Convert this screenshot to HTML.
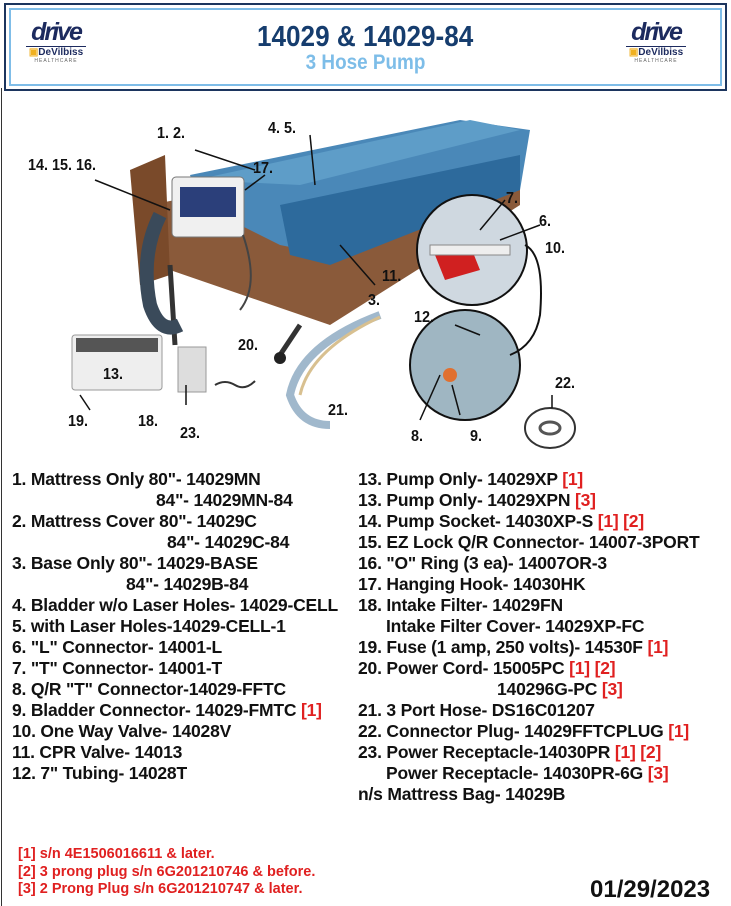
<!DOCTYPE html>
<html><head><meta charset="utf-8"><style>
body{margin:0;width:731px;height:906px;background:#fff;position:relative;overflow:hidden;font-family:"Liberation Sans",sans-serif}
.hdr{position:absolute;left:4px;top:3px;width:719px;height:84px;border:2px solid #1c355e}
.hdr2{position:absolute;left:3px;top:3px;right:3px;bottom:3px;border:2px solid #7fbde8}
.t{position:absolute;white-space:nowrap;font-weight:bold;font-size:17.5px;color:#111;line-height:21px;letter-spacing:-0.2px}
.t div{height:21px}
.r{color:#e02020}
.logo{position:absolute;top:20px;width:60px;text-align:center}
.lbl{position:absolute;font-weight:bold;font-size:16px;color:#111;transform:scaleX(0.9);transform-origin:0 0}
</style></head><body>
<div style="position:absolute;left:1px;top:88px;width:1px;height:818px;background:#333"></div>
<div class="hdr"><div class="hdr2"></div></div>
<div class="logo" style="left:26px"><div style="font:italic bold 25px 'Liberation Sans',sans-serif;color:#1c2a5e;letter-spacing:-2px;line-height:24px">drive</div><div style="border-top:1px solid #1c2a5e;font-size:10px;font-weight:bold;color:#1c2a5e;margin-top:2px"><span style="color:#f0b020">▣</span>DeVilbiss</div><div style="font-size:5px;color:#666;letter-spacing:1px">HEALTHCARE</div></div>
<div class="logo" style="left:626px"><div style="font:italic bold 25px 'Liberation Sans',sans-serif;color:#1c2a5e;letter-spacing:-2px;line-height:24px">drive</div><div style="border-top:1px solid #1c2a5e;font-size:10px;font-weight:bold;color:#1c2a5e;margin-top:2px"><span style="color:#f0b020">▣</span>DeVilbiss</div><div style="font-size:5px;color:#666;letter-spacing:1px">HEALTHCARE</div></div>
<div style="position:absolute;left:0;width:731px;top:22px;text-align:center;font-weight:bold;font-size:29px;color:#163d6e;line-height:30px"><span style="display:inline-block;transform:scaleX(0.9)">14029 &amp; 14029-84</span></div>
<div style="position:absolute;left:0;width:731px;top:52px;text-align:center;font-weight:bold;font-size:21px;color:#7dbde8;line-height:22px"><span style="display:inline-block;transform:scaleX(0.9)">3 Hose Pump</span></div>

<svg style="position:absolute;left:0;top:95px" width="731" height="360">
<polygon points="150,110 300,80 480,30 520,40 520,110 330,230 170,175" fill="#8a5a3a"/>
<polygon points="130,75 165,60 170,180 140,190" fill="#7a4a2a"/>
<polygon points="190,80 460,25 530,35 520,95 330,160 280,150 200,110" fill="#4a88b8"/>
<polygon points="280,110 520,60 520,95 330,170 290,160" fill="#2d6a9c"/>
<polygon points="195,85 310,60 470,25 520,35 300,90" fill="#5e9dc8"/>
<line x1="170" y1="170" x2="175" y2="250" stroke="#333" stroke-width="5"/>
<line x1="300" y1="230" x2="280" y2="260" stroke="#333" stroke-width="5"/>
<circle cx="280" cy="263" r="6" fill="#222"/>
<rect x="172" y="82" width="72" height="60" rx="4" fill="#f0f0f0" stroke="#777"/>
<rect x="180" y="92" width="56" height="30" fill="#2b3f7a"/>
<path d="M160 120 Q140 160 150 210 Q160 240 180 230" stroke="#3a4a5a" stroke-width="14" fill="none"/>
<path d="M243 140 Q260 190 240 215" stroke="#444" stroke-width="2" fill="none"/>
<rect x="72" y="240" width="90" height="55" rx="3" fill="#eee" stroke="#999"/>
<rect x="76" y="243" width="82" height="14" fill="#555"/>
<rect x="178" y="252" width="28" height="45" fill="#ddd" stroke="#999"/>
<path d="M215 290 q10 -6 20 0 q10 6 20 -4" stroke="#333" stroke-width="2" fill="none"/>
<path d="M380 220 Q300 250 290 300 Q300 330 330 330" stroke="#a0b8cc" stroke-width="8" fill="none"/>
<path d="M380 222 Q310 255 300 300" stroke="#d8c090" stroke-width="3" fill="none"/>
<circle cx="472" cy="155" r="55" fill="#cfd8e0" stroke="#111" stroke-width="2"/>
<polygon points="435,160 470,150 480,175 445,185" fill="#d02020"/>
<rect x="430" y="150" width="80" height="10" fill="#eee" stroke="#888"/>
<circle cx="465" cy="270" r="55" fill="#9fb6c2" stroke="#111" stroke-width="2"/>
<circle cx="450" cy="280" r="7" fill="#e07030"/>
<path d="M525 150 Q545 160 540 220 Q535 250 510 260" stroke="#111" stroke-width="2" fill="none"/>
<ellipse cx="550" cy="333" rx="25" ry="20" fill="#fff" stroke="#333" stroke-width="2"/>
<ellipse cx="550" cy="333" rx="10" ry="6" fill="none" stroke="#555" stroke-width="3"/>
<g stroke="#111" stroke-width="1.5">
<line x1="195" y1="55" x2="255" y2="75"/><line x1="310" y1="40" x2="315" y2="90"/><line x1="265" y1="80" x2="245" y2="95"/>
<line x1="95" y1="85" x2="170" y2="115"/><line x1="375" y1="190" x2="340" y2="150"/><line x1="505" y1="105" x2="480" y2="135"/>
<line x1="540" y1="130" x2="500" y2="145"/><line x1="455" y1="230" x2="480" y2="240"/><line x1="420" y1="325" x2="440" y2="280"/>
<line x1="460" y1="320" x2="452" y2="290"/><line x1="552" y1="300" x2="552" y2="313"/>
<line x1="90" y1="315" x2="80" y2="300"/><line x1="186" y1="290" x2="186" y2="310"/>
</g>
</svg>
<div class="lbl" style="left:157px;top:125px">1. 2.</div>
<div class="lbl" style="left:268px;top:120px">4. 5.</div>
<div class="lbl" style="left:28px;top:157px">14. 15. 16.</div>
<div class="lbl" style="left:253px;top:160px">17.</div>
<div class="lbl" style="left:506px;top:190px">7.</div>
<div class="lbl" style="left:539px;top:213px">6.</div>
<div class="lbl" style="left:545px;top:240px">10.</div>
<div class="lbl" style="left:382px;top:268px">11.</div>
<div class="lbl" style="left:368px;top:292px">3.</div>
<div class="lbl" style="left:414px;top:309px">12.</div>
<div class="lbl" style="left:238px;top:337px">20.</div>
<div class="lbl" style="left:103px;top:366px">13.</div>
<div class="lbl" style="left:555px;top:375px">22.</div>
<div class="lbl" style="left:68px;top:413px">19.</div>
<div class="lbl" style="left:138px;top:413px">18.</div>
<div class="lbl" style="left:180px;top:425px">23.</div>
<div class="lbl" style="left:328px;top:402px">21.</div>
<div class="lbl" style="left:411px;top:428px">8.</div>
<div class="lbl" style="left:470px;top:428px">9.</div>

<div class="t" style="left:12px;top:469px">
<div>1. Mattress Only 80"- 14029MN</div>
<div style="padding-left:144px">84"- 14029MN-84</div>
<div>2. Mattress Cover 80"- 14029C</div>
<div style="padding-left:155px">84"- 14029C-84</div>
<div>3. Base Only 80"- 14029-BASE</div>
<div style="padding-left:114px">84"- 14029B-84</div>
<div>4. Bladder w/o Laser Holes- 14029-CELL</div>
<div>5. with Laser Holes-14029-CELL-1</div>
<div>6. "L" Connector- 14001-L</div>
<div>7. "T" Connector- 14001-T</div>
<div>8. Q/R "T" Connector-14029-FFTC</div>
<div>9. Bladder Connector- 14029-FMTC <span class="r">[1]</span></div>
<div>10. One Way Valve- 14028V</div>
<div>11. CPR Valve- 14013</div>
<div>12. 7" Tubing- 14028T</div>
</div>

<div class="t" style="left:358px;top:469px">
<div>13. Pump Only- 14029XP <span class="r">[1]</span></div>
<div>13. Pump Only- 14029XPN <span class="r">[3]</span></div>
<div>14. Pump Socket- 14030XP-S <span class="r">[1] [2]</span></div>
<div>15. EZ Lock Q/R Connector- 14007-3PORT</div>
<div>16. "O" Ring (3 ea)- 14007OR-3</div>
<div>17. Hanging Hook- 14030HK</div>
<div>18. Intake Filter- 14029FN</div>
<div style="padding-left:28px">Intake Filter Cover- 14029XP-FC</div>
<div>19. Fuse (1 amp, 250 volts)- 14530F <span class="r">[1]</span></div>
<div>20. Power Cord- 15005PC <span class="r">[1] [2]</span></div>
<div style="padding-left:139px">140296G-PC <span class="r">[3]</span></div>
<div>21. 3 Port Hose- DS16C01207</div>
<div>22. Connector Plug- 14029FFTCPLUG <span class="r">[1]</span></div>
<div>23. Power Receptacle-14030PR <span class="r">[1] [2]</span></div>
<div style="padding-left:28px">Power Receptacle- 14030PR-6G <span class="r">[3]</span></div>
<div>n/s Mattress Bag- 14029B</div>
</div>

<div style="position:absolute;left:18px;top:846px;font-size:14.5px;font-weight:bold;color:#e02020;line-height:17.5px">[1] s/n 4E1506016611 &amp; later.<br>[2] 3 prong plug s/n 6G201210746 &amp; before.<br>[3] 2 Prong Plug s/n 6G201210747 &amp; later.</div>
<div style="position:absolute;left:590px;top:876px;font-size:24px;font-weight:bold;color:#111">01/29/2023</div>
</body></html>
